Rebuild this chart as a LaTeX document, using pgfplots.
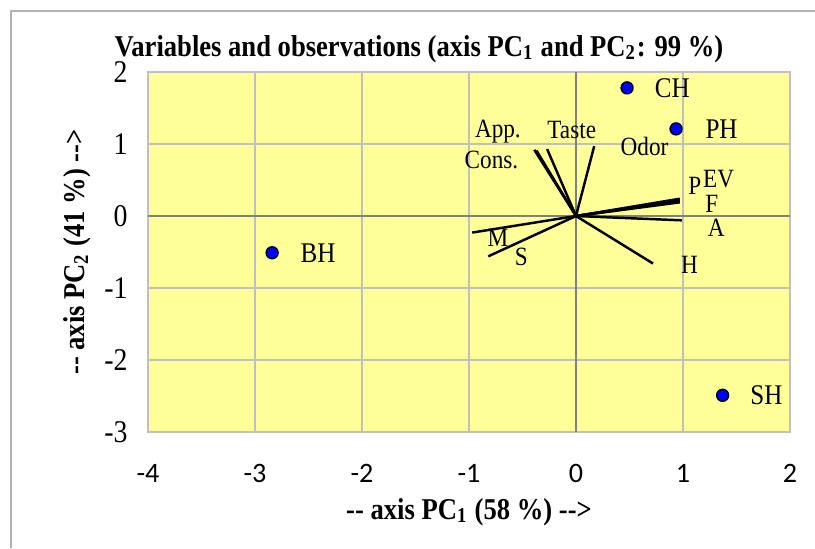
\documentclass[border=0pt]{standalone}
\usepackage{fontspec}
\setmainfont{Liberation Serif}[FakeStretch=0.88]
\newfontfamily\carlito{Carlito}
\usepackage{pgfplots}
\pgfplotsset{compat=1.18}
\definecolor{bgyellow}{RGB}{255,255,153}
\definecolor{ptblue}{RGB}{0,0,255}
\definecolor{gridgray}{RGB}{192,192,192}
\begin{document}
\begin{tikzpicture}
\begin{axis}[
 at={(0,0)}, anchor=south west,
 width=64.2mm, height=36mm, scale only axis,
 xmin=-4, xmax=2, ymin=-3, ymax=2,
 xtick={-4,-3,-2,-1,0,1,2}, ytick={-3,-2,-1,0,1,2},
 grid=major, grid style={gridgray, line width=0.6pt},
 axis line style={gridgray, line width=0.6pt},
 axis background/.style={fill=bgyellow},
 tick style={draw=none},
 /pgf/number format/assume math mode=true,
 xticklabel style={font=\carlito\fontsize{8}{9}\selectfont, yshift=-2mm},
 yticklabel style={font=\fontsize{9}{10}\selectfont, xshift=-0.8mm},
 extra x ticks={0}, extra y ticks={0},
 extra x tick labels={}, extra y tick labels={},
 extra tick style={grid style={gray, line width=0.7pt}},
 every axis title shift=0pt,
 title={Variables and observations (axis PC\textsubscript{1} and PC\textsubscript{2}: 99 \%)},
 title style={at={(axis description cs:0.422,1.044)}, anchor=base, inner sep=0pt, font=\bfseries\fontsize{8.6}{10}\selectfont},
 xlabel={-{}- axis PC\textsubscript{1} (58 \%) -{}->},
 xlabel style={at={(axis description cs:0.5,-0.222)}, anchor=center, font=\bfseries\fontsize{8.6}{10}\selectfont},
 ylabel={-{}- axis PC\textsubscript{2} (41 \%) -{}->},
 ylabel style={at={(axis description cs:-0.11,0.5)}, anchor=center, rotate=0, font=\bfseries\fontsize{8.6}{10}\selectfont},
]
% variable vectors
\addplot[black, line width=0.7pt, mark=none, quiver={u=\thisrow{u}, v=\thisrow{v}}] table {
x y u v
0 0 -0.39 0.92
0 0 -0.37 0.91
0 0 -0.27 0.93
0 0 0.17 0.97
0 0 0.97 0.24
0 0 0.97 0.22
0 0 0.97 0.21
0 0 0.97 0.19
0 0 0.99 -0.06
0 0 0.72 -0.66
0 0 -0.97 -0.23
0 0 -0.82 -0.56
};
% variable labels
\addplot[draw=none, mark=none, nodes near coords, point meta=explicit symbolic,
 every node near coord/.append style={anchor=center, inner sep=0pt, font=\fontsize{7.5}{8}\selectfont}]
 table[meta=lab] {
x y lab
-0.73 1.17 App.
-0.79 0.78 Cons.
-0.04 1.19 Taste
0.64 0.97 Odor
1.11 0.42 P
1.255 0.52 E
1.40 0.52 V
1.27 0.17 F
1.31 -0.17 A
1.06 -0.68 H
-0.73 -0.31 M
-0.51 -0.57 S
};
% observations
\addplot[only marks, mark=*, mark size=1.7pt, mark options={fill=ptblue, draw=black, line width=0.4pt}] table {
x y
0.477 1.78
0.935 1.21
-2.84 -0.51
1.37 -2.49
};
\addplot[draw=none, mark=none, nodes near coords, point meta=explicit symbolic,
 every node near coord/.append style={anchor=center, inner sep=0pt, font=\fontsize{8.1}{9}\selectfont}]
 table[meta=lab] {
x y lab
0.90 1.78 CH
1.36 1.21 PH
-2.41 -0.51 BH
1.78 -2.49 SH
};
\end{axis}
\pgfresetboundingbox
\useasboundingbox (-14.8mm,-11.6mm) rectangle (66.7mm,43.2mm);
\draw[gray!60, line width=0.6pt] (-13.7mm,-11.6mm) -- (-13.7mm,42.1mm) -- (66.7mm,42.1mm);
\end{tikzpicture}
\end{document}
